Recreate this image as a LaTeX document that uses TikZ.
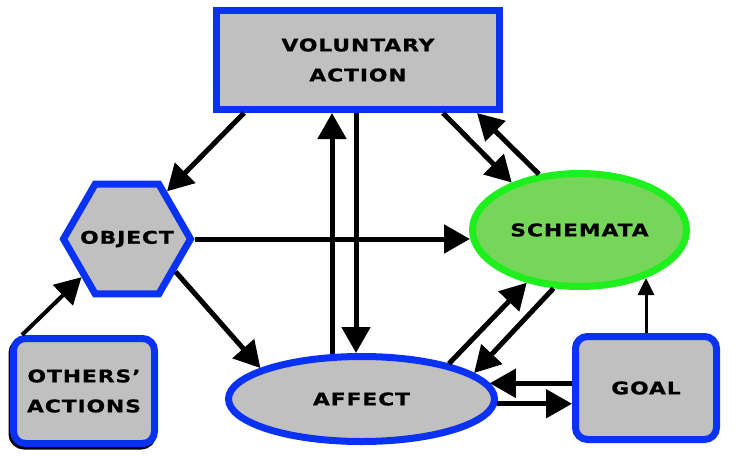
\documentclass[tikz,border=0pt]{standalone}
\usepackage{fontspec}
\usetikzlibrary{arrows.meta,shapes.geometric,calc,shadows}
\newfontfamily\labfont[FakeStretch=1.25,LetterSpace=5,FakeBold=0.6]{DejaVu Sans}
\definecolor{bb}{RGB}{10,50,245}
\definecolor{gf}{RGB}{192,192,192}
\definecolor{grf}{RGB}{118,214,90}
\definecolor{grb}{RGB}{30,240,30}
\begin{document}
\begin{tikzpicture}[x=1pt,y=-1pt,
  lab/.style={font=\labfont\bfseries\fontsize{17.5}{30}\selectfont, text=black, align=center, inner sep=0pt},
  bluebox/.style={lab, draw=bb, fill=gf, line width=7pt},
  arr/.style={line width=5pt, -{Triangle[length=26pt,width=28pt]}}]
\useasboundingbox (0,0) rectangle (736,458);
\fill[white] (0,0) rectangle (736,458);

\node[bluebox, rectangle, minimum width=283pt, minimum height=99pt] (va) at (358,60) {VOLUNTARY\\ACTION};
\node[bluebox, regular polygon, regular polygon sides=6, minimum size=127pt,
      label={[lab]center:OBJECT}] (obj) at (127,239) {};
\node[bluebox, rounded corners=12pt, minimum width=141pt, minimum height=105pt,
      drop shadow={shadow xshift=-1.5pt, shadow yshift=-2.5pt, fill=black, draw=black, line width=7pt, opacity=1}] (oth) at (84,391) {OTHERS’\\ACTIONS};
\node[bluebox, rounded corners=12pt, minimum width=141pt, minimum height=103pt] (goal) at (646,388) {GOAL};
\node[bluebox, ellipse, minimum width=266pt, minimum height=85pt] (aff) at (361.5,399) {AFFECT};
\node[lab, ellipse, draw=grb, fill=grf, line width=7pt, minimum width=214pt, minimum height=113pt] (sch) at (579.5,230) {SCHEMATA};

\draw[arr] ($(va.south west)+(31,0)$) -- (obj.50);
\draw[arr] ($(aff.north)+(-29.5,1)$) -- ($(va.south west)+(119,0)$);
\draw[arr] ($(va.south west)+(143,0)$) -- ($(aff.north)+(-5.5,0)$);
\draw[arr] (obj.east) -- ($(obj.east -| sch.west)+(1,0)$);
\draw[arr] (obj.-34) -- (aff.163);
\draw[arr, line width=4pt] ($(oth.north west)+(12,0)$) -- (obj.220);
\draw[arr] ($(va.south east)+(-60,0)$) -- (sch.145);
\draw[arr] (sch.126) -- ($(va.south east)+(-26,0)$);
\draw[arr] (aff.22) -- (sch.225);
\draw[arr] (sch.246) -- (aff.13);
\draw[arr] (aff.7 -| goal.west) -- (aff.7);
\draw[arr] (aff.-2) -- (aff.-2 -| goal.west);
\draw[line width=3pt, -{Triangle[length=17pt,width=16pt]}] (goal.north) -- (goal.north |- sch.-36);
\end{tikzpicture}
\end{document}
